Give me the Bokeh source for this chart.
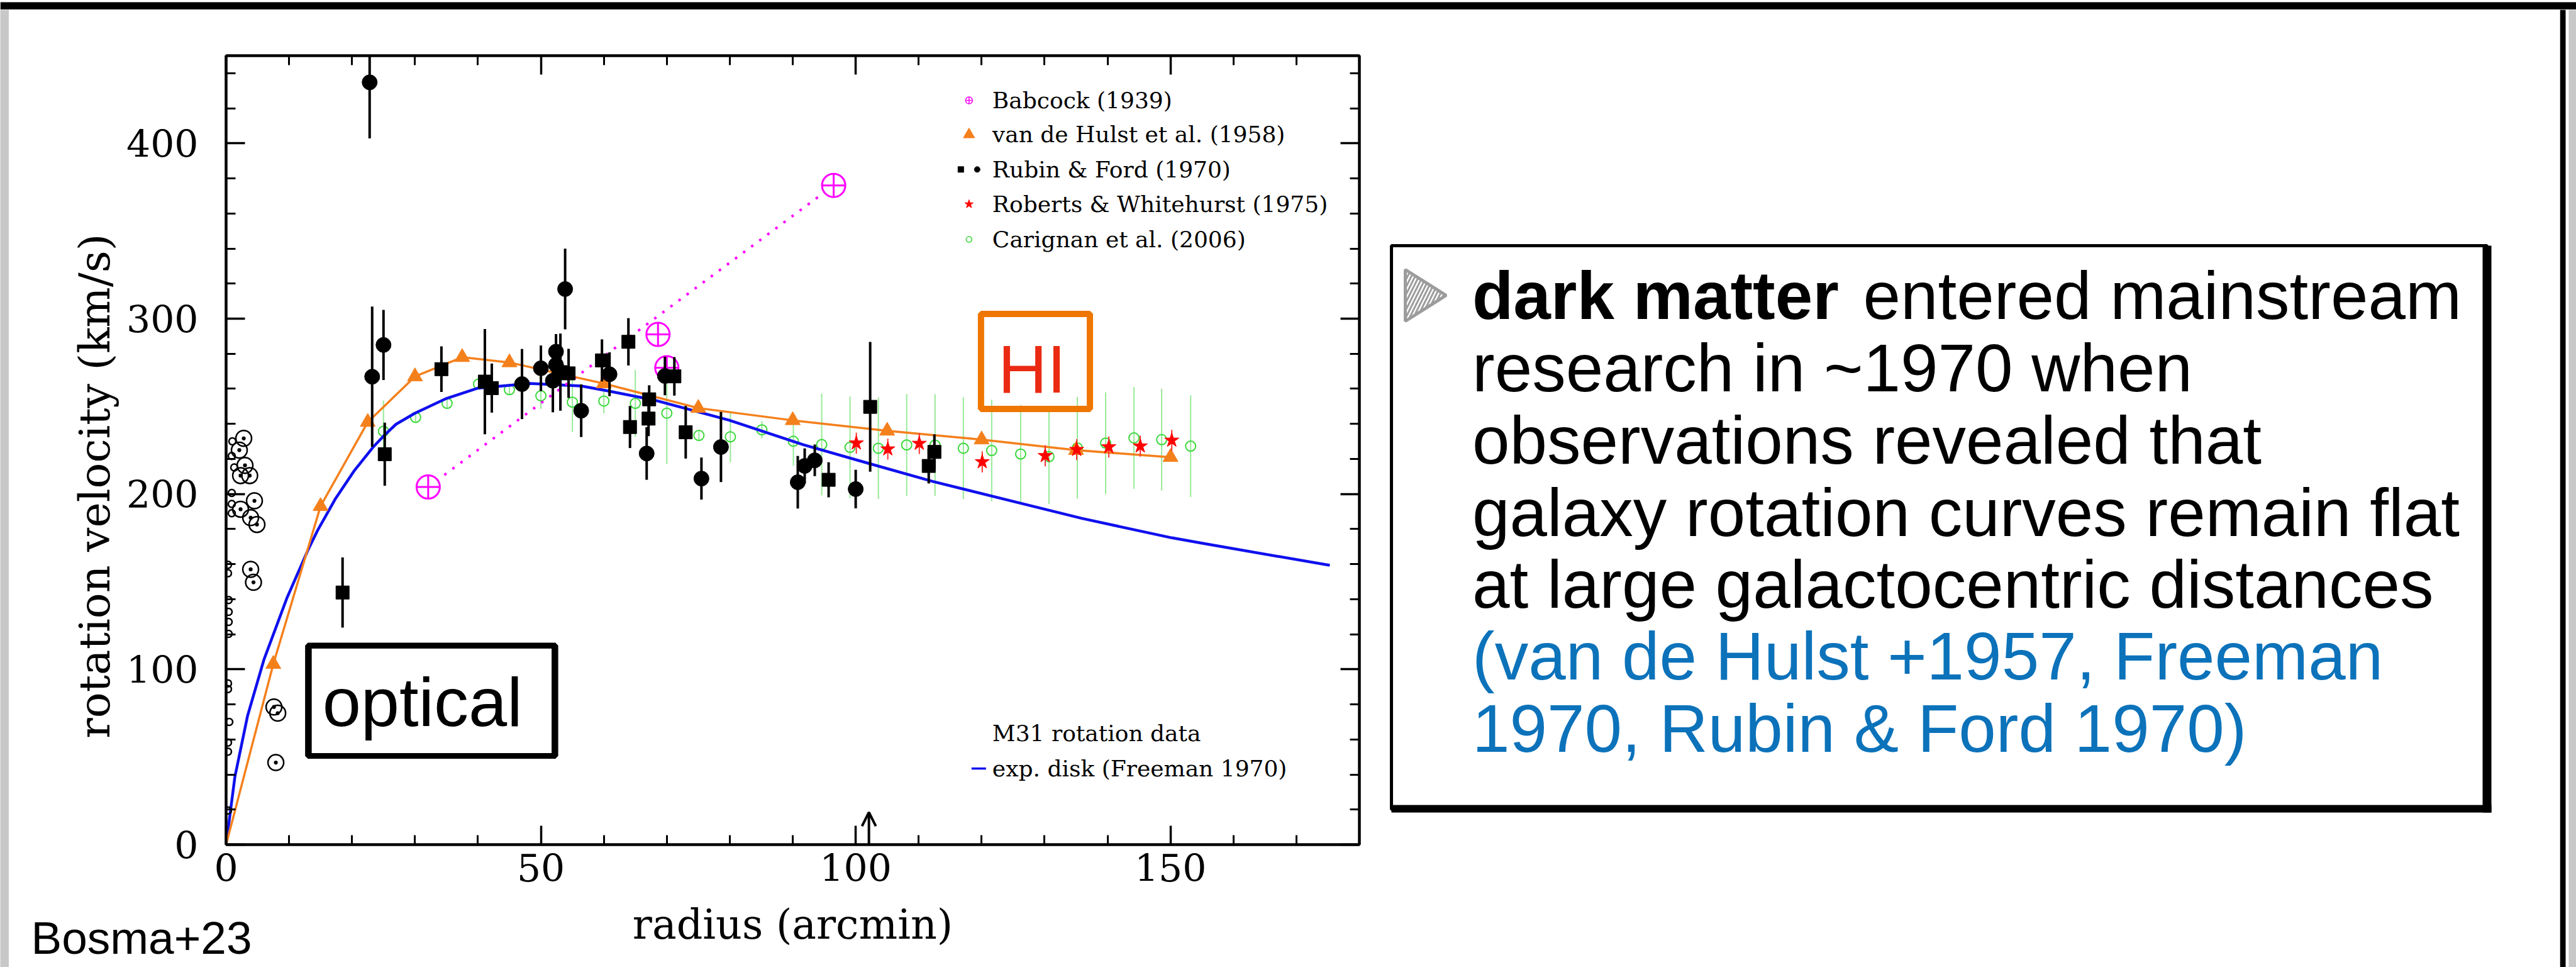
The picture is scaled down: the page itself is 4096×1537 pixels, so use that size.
import math
from bokeh.plotting import figure
from bokeh.layouts import row, column
from bokeh.models import Range1d, FixedTicker, LinearAxis, Arrow, OpenHead
from bokeh.core.properties import value
from bokeh.embed import file_html
from bokeh.resources import INLINE

# ---------------- M31 rotation data: radius (arcmin), velocity (km/s) ----------------
babcock_r = [32.1, 68.6, 70.0, 96.5]
babcock_v = [204, 291, 272, 376]

hulst_r = [7.5, 15, 22.5, 30, 37.5, 45, 60, 75, 90, 105, 120, 135, 150]
hulst_v = [103, 193, 241, 267, 278, 275, 263, 249, 242, 236, 231, 225, 221]

rf_circ_r = [22.8, 23.2, 25.0, 47.0, 50.0, 51.9, 52.4, 52.4, 53.85, 56.4, 60.9,
             66.8, 69.7, 75.5, 78.6, 90.8, 91.9, 93.5, 100.0]
rf_circ_v = [434.8, 266.9, 285.0, 262.7, 271.7, 264.6, 281.2, 273.6, 316.9, 247.5,
             268.3, 223.1, 267.3, 208.8, 226.8, 206.7, 216.0, 219.2, 202.8]
rf_circ_e = [32, 40, 20, 20, 13, 18, 10, 12, 23, 15, 12.5, 15, 11, 12, 20, 15, 10, 9, 11]

rf_sq_r = [18.5, 25.2, 34.2, 41.1, 42.2, 53.1, 54.4, 59.7, 63.9, 64.15, 67.1, 67.2,
           71.2, 73.0, 95.7, 102.3, 111.6, 112.5]
rf_sq_v = [143.8, 222.7, 271.2, 264.1, 260.4, 269.5, 268.8, 276.2, 286.8, 238.2, 243.0,
           254.0, 267.1, 235.2, 208.1, 249.7, 216.0, 224.0]
rf_sq_e = [20, 18, 13, 30, 14, 22, 14, 12, 13.5, 12, 10, 8, 11, 15, 10, 37, 10, 10]

# inner optical points (open circles)
inner_small_r = [1.0, 0.9, 1.3, 0.9, 0.9, 0.9, 0.3, 0.3, 0.4, 0.4, 0.4, 0.4, 0.3, 0.3,
                 0.5, 0.3, 0.3, 0.3]
inner_small_v = [230.0, 221.7, 215.1, 200.6, 194.3, 189.0, 159.6, 154.8, 139.5, 132.8,
                 127.0, 120.2, 92.0, 88.7, 70.0, 58.2, 53.0, 19.5]
inner_big_r = [2.8, 2.1, 3.0, 2.3, 3.75, 4.5, 2.3, 3.9, 4.9, 3.9, 4.35, 7.6, 8.2, 7.9]
inner_big_v = [231.7, 225.0, 216.3, 210.5, 210.5, 196.1, 191.3, 186.5, 182.6, 157.0,
               149.6, 78.5, 75.0, 46.8]

rw_r = [100.1, 105.1, 110.1, 120.1, 130.1, 135.1, 140.2, 145.2, 150.2]
rw_v = [229.0, 225.6, 228.8, 218.3, 221.8, 225.3, 226.8, 227.3, 230.6]
rw_e = [6, 6, 6, 6, 6, 6, 6, 6, 6]

car_r = [25.0, 30.1, 35.1, 40.1, 45.0, 50.0, 55.0, 60.0, 65.0, 70.0, 75.1, 80.1, 85.1,
         90.1, 94.6, 99.1, 103.6, 108.1, 112.6, 117.1, 121.6, 126.2, 130.7, 135.2,
         139.7, 144.2, 148.6, 153.2]
car_v = [235.8, 243.7, 251.7, 262.7, 259.5, 256.0, 252.4, 253.0, 251.7, 246.1, 233.4,
         232.6, 236.6, 230.1, 228.2, 226.6, 226.1, 228.0, 227.9, 226.1, 224.8, 222.8,
         221.3, 226.3, 229.0, 232.0, 231.0, 227.3]
car_e = [17.5, 3, 3, 3, 3, 7.5, 17, 7, 19, 29, 3, 14.5, 5, 14, 29, 29, 29, 29, 29, 29,
         29, 28, 27, 29, 29, 29, 29, 29]

# exponential disk model (Freeman 1970)
disk_r = [0, 1.4, 3.4, 6.0, 9.7, 13.0, 14.5, 17.4, 20.4, 23.3, 25.0, 27.0, 30.0, 35.0,
          40.0, 48.3, 56.4, 60.6, 68.1, 79.9, 91.6, 102.4, 112.2, 126.2, 135.9, 150.2,
          155.5, 175.3]
disk_v = [0, 38.7, 73.3, 105.4, 141.0, 168.0, 179.0, 197.5, 213.5, 226.5, 233.0, 239.8,
          246.1, 254.5, 260.4, 263.0, 261.6, 258.8, 253.5, 242.1, 228.2, 217.1, 207.2,
          194.7, 186.1, 175.0, 171.6, 159.3]

x_major = [0, 50, 100, 150]
x_minor = list(range(0, 181, 10))
y_major = [0, 100, 200, 300, 400]
y_minor = list(range(0, 451, 20))

legend_labels = ["Babcock (1939)", "van de Hulst et al. (1958)", "Rubin & Ford (1970)",
                 "Roberts & Whitehurst (1975)", "Carignan et al. (2006)"]

text_lines = ["research in ~1970 when", "observations revealed that",
              "galaxy rotation curves remain flat", "at large galactocentric distances"]
cite_lines = ["(van de Hulst +1957, Freeman", "1970, Rubin & Ford 1970)"]

# ---------------- page geometry (window pixels) ----------------
W, H = 4096, 1537
TOP = 15            # top border strip
LEFT = 14           # left border strip
SPLIT_X = 2200      # chart column | text column
RIGHT_X = 4070      # right border strip
CHART_BOTTOM = 1428
YLAB_W = 180
FL, FR, FT, FB = 359, 2161, 88, 1342
X0, X1, Y0, Y1 = 0.0, 180.0, 0.0, 450.0
V_PER_PX = (Y1 - Y0) / (FB - FT)

SERIF = "DejaVu Serif"
SANS = "Liberation Sans"
MID = 0.3465   # distance from baseline to text middle, in em


def canvas(x0, y0, x1, y1, bg="white"):
    """A blank drawing surface addressed in window pixels (y grows downwards)."""
    f = figure(width=x1 - x0, height=y1 - y0, output_backend="svg",
               toolbar_location=None, x_range=Range1d(x0, x1),
               y_range=Range1d(y1, y0), x_axis_type=None, y_axis_type=None,
               min_border=0)
    f.grid.visible = False
    f.outline_line_color = None
    f.background_fill_color = bg
    f.border_fill_color = bg
    return f


# ---------------- the chart ----------------
p = figure(width=SPLIT_X - LEFT - YLAB_W, height=CHART_BOTTOM - TOP,
           output_backend="svg", toolbar_location=None,
           x_range=Range1d(X0, X1), y_range=Range1d(Y0, Y1),
           min_border_left=FL - LEFT - YLAB_W, min_border_right=SPLIT_X - FR,
           min_border_top=FT - TOP, min_border_bottom=CHART_BOTTOM - FB)
p.grid.visible = False
p.background_fill_color = "white"
p.border_fill_color = "white"
p.outline_line_color = "black"
p.outline_line_width = 4


def style_axis(ax, ticks, minor, show_labels):
    ax.ticker = FixedTicker(ticks=ticks, minor_ticks=minor)
    ax.axis_line_width = 4
    ax.axis_line_color = "black"
    ax.major_tick_in = 30
    ax.major_tick_out = 0
    ax.minor_tick_in = 15
    ax.minor_tick_out = 0
    ax.major_tick_line_width = 3.5
    ax.minor_tick_line_width = 3
    ax.major_tick_line_color = "black"
    ax.minor_tick_line_color = "black"
    ax.major_label_text_font = SERIF
    if show_labels:
        ax.major_label_text_font_size = "60px"
        ax.major_label_text_color = "black"
    else:
        ax.major_label_text_font_size = "1px"
        ax.major_label_text_alpha = 0


style_axis(p.xaxis[0], x_major, x_minor, True)
style_axis(p.yaxis[0], y_major, y_minor, True)
p.xaxis[0].major_label_standoff = 14
p.yaxis[0].major_label_standoff = 44

top_ax = LinearAxis()
style_axis(top_ax, x_major, x_minor, False)
p.add_layout(top_ax, "above")
right_ax = LinearAxis()
style_axis(right_ax, y_major, y_minor, False)
p.add_layout(right_ax, "right")

# Carignan et al. (2006)
GREEN = "#3ad83a"
p.segment(x0=car_r, y0=[v - e for v, e in zip(car_v, car_e)],
          x1=car_r, y1=[v + e for v, e in zip(car_v, car_e)],
          line_color="#97ea97", line_width=2)
p.scatter(car_r, car_v, marker="circle", size=16, fill_color=None,
          line_color=GREEN, line_width=2)

# exponential disk
BLUE = "#1010ee"
p.line(disk_r, disk_v, line_color=BLUE, line_width=4.5)

# van de Hulst et al. (1958)
ORANGE = "#f4801c"
p.line([0] + hulst_r, [0] + hulst_v, line_color=ORANGE, line_width=3.5)
p.scatter(hulst_r, hulst_v, marker="triangle", size=24, fill_color=ORANGE,
          line_color=ORANGE)

# Babcock (1939)
MAGENTA = "#ff00ff"
p.line([babcock_r[0], babcock_r[-1]], [babcock_v[0], babcock_v[-1]],
       line_color=MAGENTA, line_width=4, line_dash="4 12")
p.scatter(babcock_r, babcock_v, marker="circle_cross", size=37, fill_color="white",
          line_color=MAGENTA, line_width=3)

# inner optical points
p.scatter(inner_small_r, inner_small_v, marker="circle", size=11, fill_color=None,
          line_color="black", line_width=2.5)
p.scatter(inner_big_r, inner_big_v, marker="circle_dot", size=25, fill_color=None,
          line_color="black", line_width=2.5)

# Rubin & Ford (1970)
p.segment(x0=rf_circ_r, y0=[v - e for v, e in zip(rf_circ_v, rf_circ_e)],
          x1=rf_circ_r, y1=[v + e for v, e in zip(rf_circ_v, rf_circ_e)],
          line_color="black", line_width=4)
p.segment(x0=rf_sq_r, y0=[v - e for v, e in zip(rf_sq_v, rf_sq_e)],
          x1=rf_sq_r, y1=[v + e for v, e in zip(rf_sq_v, rf_sq_e)],
          line_color="black", line_width=4)
p.scatter(rf_sq_r, rf_sq_v, marker="square", size=21, fill_color="black",
          line_color="black")
p.scatter(rf_circ_r, rf_circ_v, marker="circle", size=24, fill_color="black",
          line_color="black")

# Roberts & Whitehurst (1975)
p.segment(x0=rw_r, y0=[v - e for v, e in zip(rw_v, rw_e)],
          x1=rw_r, y1=[v + e for v, e in zip(rw_v, rw_e)],
          line_color="#ff3030", line_width=2)
p.scatter(rw_r, rw_v, marker="star", size=24, fill_color="#ff0000",
          line_color="#ff0000")

# legend
leg_x_sym, leg_x_txt = 118.0, 121.7
leg_rows = [424.5, 405.0, 385.1, 365.3, 345.2]
p.scatter([leg_x_sym], [leg_rows[0]], marker="circle_cross", size=11, fill_color=None,
          line_color=MAGENTA, line_width=1.5)
p.scatter([leg_x_sym], [leg_rows[1]], marker="triangle", size=18, fill_color=ORANGE,
          line_color=ORANGE)
p.scatter([116.7], [leg_rows[2]], marker="square", size=9, fill_color="black",
          line_color="black")
p.scatter([119.3], [leg_rows[2]], marker="circle", size=9, fill_color="black",
          line_color="black")
p.scatter([leg_x_sym], [leg_rows[3]], marker="star", size=14, fill_color="#ff0000",
          line_color="#ff0000")
p.scatter([leg_x_sym], [leg_rows[4]], marker="circle", size=9, fill_color=None,
          line_color=GREEN, line_width=1.5)
p.text(x=[leg_x_txt] * 5, y=leg_rows, text=legend_labels, text_font=value(SERIF),
       text_font_size=value("36px"), text_baseline="middle", text_align="left",
       text_color="black")

p.text(x=[leg_x_txt, leg_x_txt], y=[63.6, 43.4],
       text=["M31 rotation data", "exp. disk (Freeman 1970)"], text_font=value(SERIF),
       text_font_size=value("36px"), text_baseline="middle", text_align="left",
       text_color="black")
p.segment(x0=[118.4], y0=[43.4], x1=[120.7], y1=[43.4], line_color=BLUE,
          line_width=3.5)

# arrow marking the optical edge
p.add_layout(Arrow(end=OpenHead(size=22, line_width=4, line_color="black"),
                   x_start=102.1, y_start=0, x_end=102.1, y_end=18.4,
                   line_width=4, line_color="black"))

# "optical" and "HI" call-outs
p.quad(left=[13.0], right=[52.3], bottom=[50.6], top=[113.6], fill_color="white",
       line_color="black", line_width=9)
p.quad(left=[13.5], right=[51.8], bottom=[51.8], top=[112.2], fill_color=None,
       line_color="black", line_width=2)
p.text(x=[15.3], y=[67.8 + MID * 110 * V_PER_PX], text=["optical"],
       text_font=value(SANS), text_font_size=value("110px"), text_baseline="middle",
       text_align="left", text_color="black")

p.quad(left=[119.9], right=[137.2], bottom=[248.5], top=[302.7], fill_color=None,
       line_color="#ef7600", line_width=10)
p.text(x=[128.0], y=[257.9 + MID * 108 * V_PER_PX], text=["HI"],
       text_font=value(SANS), text_font_size=value("108px"), text_baseline="middle",
       text_align="center", text_color="#ea2a12")

# ---------------- axis titles and credit ----------------
ylab = canvas(LEFT, TOP, LEFT + YLAB_W, CHART_BOTTOM)
ylab.text(x=[150], y=[786], text=["rotation velocity (km/s)"], angle=math.pi / 2,
          text_font=value(SERIF), text_font_size=value("68px"), text_align="center",
          text_baseline="middle", text_color="black")

bottom = canvas(LEFT, CHART_BOTTOM, SPLIT_X, H)
bottom.text(x=[(FL + FR) / 2], y=[1492 - MID * 65], text=["radius (arcmin)"],
            text_font=value(SERIF), text_font_size=value("65px"), text_align="center",
            text_baseline="middle", text_color="black")
bottom.text(x=[49], y=[1515 - MID * 73], text=["Bosma+23"], text_font=value(SANS),
            text_font_size=value("73px"), text_align="left", text_baseline="middle",
            text_color="black")

# ---------------- text panel ----------------
tp = canvas(SPLIT_X, TOP, RIGHT_X, H)
tp.quad(left=[2212], right=[3954], top=[390], bottom=[1286], fill_color=None,
        line_color="black", line_width=5)
tp.quad(left=[3947, 2212], right=[3961, 3961], top=[390, 1279], bottom=[1291, 1291],
        fill_color="black", line_color=None)
tp.patch(x=[2234, 2234, 2299], y=[428, 510, 469], fill_color=None,
         line_color="#9c9c9c", line_width=5, hatch_pattern="/",
         hatch_color="#9c9c9c", hatch_weight=3, hatch_scale=12)

FS = 107
TX = 2340.5
tp.text(x=[TX], y=[507 - MID * FS], text=["dark matter"], text_font=value(SANS),
        text_font_style="bold", text_font_size=value(f"{FS}px"),
        text_baseline="middle", text_align="left", text_color="black")
tp.text(x=[2962], y=[507 - MID * FS], text=["entered mainstream"],
        text_font=value(SANS), text_font_size=value(f"{FS}px"),
        text_baseline="middle", text_align="left", text_color="black")
tp.text(x=[TX] * len(text_lines),
        y=[622 + 114.6 * i - MID * FS for i in range(len(text_lines))],
        text=text_lines, text_font=value(SANS), text_font_size=value(f"{FS}px"),
        text_baseline="middle", text_align="left", text_color="black")
tp.text(x=[TX] * len(cite_lines),
        y=[1080 + 114.6 * i - MID * FS for i in range(len(cite_lines))],
        text=cite_lines, text_font=value(SANS), text_font_size=value(f"{FS}px"),
        text_baseline="middle", text_align="left", text_color="#0c72ba")

# ---------------- slide border strips ----------------
top_strip = canvas(0, 0, W, TOP)
top_strip.quad(left=[0], right=[W], top=[3], bottom=[TOP], fill_color="black",
               line_color=None)
left_strip = canvas(0, TOP, LEFT, H, bg="#c8c8c8")
right_strip = canvas(RIGHT_X, TOP, W, H)
right_strip.quad(left=[RIGHT_X, RIGHT_X + 14], right=[RIGHT_X + 9, W], top=[TOP, TOP],
                 bottom=[H, H], fill_color=["black", "#c8c8c8"], line_color=None)

page = column(top_strip,
              row(left_strip,
                  column(row(ylab, p), bottom),
                  tp,
                  right_strip))

open("out.html", "w").write(file_html(page, INLINE))
